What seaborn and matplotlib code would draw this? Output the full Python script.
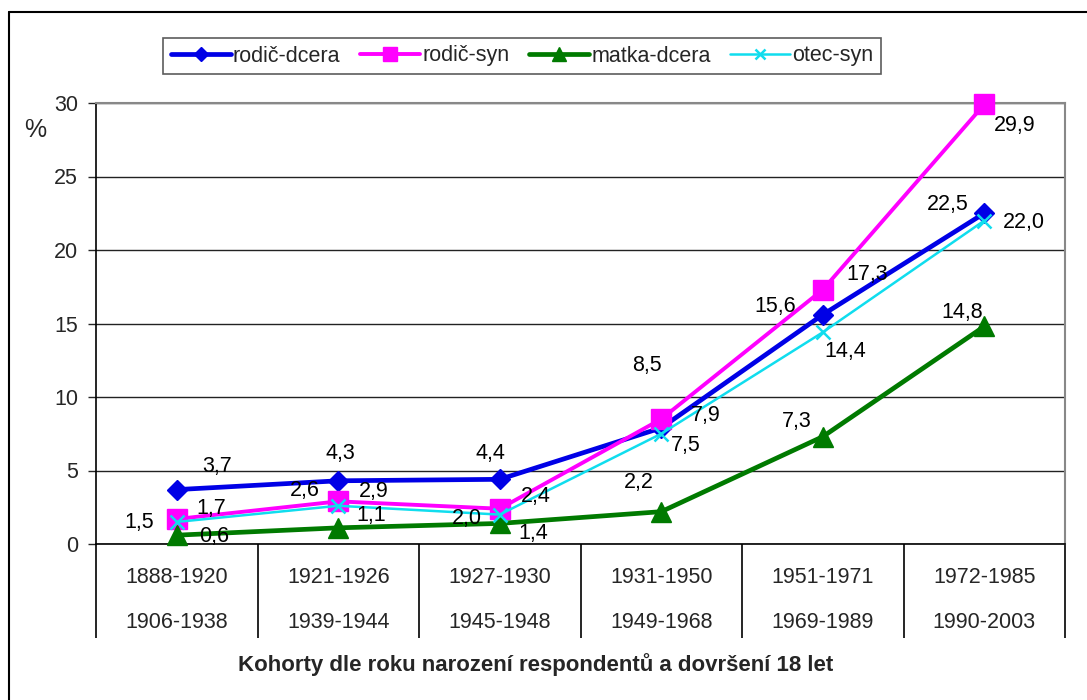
import numpy as np
import pandas as pd
import seaborn as sns
import matplotlib.pyplot as plt
from matplotlib.lines import Line2D
import matplotlib.transforms as mtransforms

# Data
cohorts_birth = ["1888-1920", "1921-1926", "1927-1930", "1931-1950", "1951-1971", "1972-1985"]
cohorts_18 = ["1906-1938", "1939-1944", "1945-1948", "1949-1968", "1969-1989", "1990-2003"]

rodic_dcera = [3.7, 4.3, 4.4, 7.9, 15.6, 22.5]
rodic_syn = [1.7, 2.9, 2.4, 8.5, 17.3, 29.9]
matka_dcera = [0.6, 1.1, 1.4, 2.2, 7.3, 14.8]
otec_syn = [1.5, 2.6, 2.0, 7.5, 14.4, 22.0]

series_names = ["rodič-dcera", "rodič-syn", "matka-dcera", "otec-syn"]
x_title = "Kohorty dle roku narození respondentů a dovršení 18 let"

FS = 15.5

# Styles per series: colour, marker, marker size, line width
styles = {
    "rodič-dcera": dict(color="#0000E6", marker="D", ms=10, lw=3.4, mew=1),
    "rodič-syn": dict(color="#FF00FF", marker="s", ms=14, lw=2.8, mew=1),
    "matka-dcera": dict(color="#007A00", marker="^", ms=14, lw=3.4, mew=1),
    "otec-syn": dict(color="#10DDEE", marker="x", ms=10, lw=1.8, mew=1.8),
}

# label offsets in pixels (dx, dy up) for each point
label_offsets = {
    "rodič-dcera": [(40, 23), (2, 27), (-9, 26), (44, 12), (-48, 8), (-36, 9)],
    "rodič-syn": [(35, 11), (36, 10), (36, 12), (-14, 54), (44, 15), (30, -21)],
    "matka-dcera": [(37, -1), (33, 12), (33, -10), (-22, 29), (-26, 15), (-22, 14)],
    "otec-syn": [(-38, -1), (-33, 15), (-33, -4), (25, -12), (22, -19), (40, -2)],
}

values = dict(zip(series_names, [rodic_dcera, rodic_syn, matka_dcera, otec_syn]))
pos = np.arange(len(cohorts_birth))

rows = []
for name in series_names:
    for i, v in enumerate(values[name]):
        rows.append({"pos": pos[i], "serie": name, "value": v})
df = pd.DataFrame(rows)

sns.set_style("white")
plt.rcParams["font.family"] = ["Liberation Sans", "DejaVu Sans"]

fig = plt.figure(figsize=(10.87, 7.0), dpi=100)
ax = fig.add_axes([96 / 1087, 1 - 544 / 700, (1065 - 96) / 1087, (544 - 103) / 700])

for name in series_names:
    st = styles[name]
    sub = df[df["serie"] == name]
    sns.lineplot(data=sub, x="pos", y="value", ax=ax, color=st["color"],
                 marker=st["marker"], markersize=st["ms"], linewidth=st["lw"],
                 markeredgecolor=st["color"], markeredgewidth=st["mew"],
                 label=name, clip_on=False, zorder=3)
    for (i, v), (dx, dy) in zip(enumerate(values[name]), label_offsets[name]):
        ax.annotate(f"{v:.1f}".replace(".", ","), (pos[i], v), xytext=(dx, dy),
                    textcoords="offset pixels", ha="center", va="center",
                    fontsize=FS, color="black", zorder=4)

ax.set_xlim(-0.5, len(cohorts_birth) - 0.5)
ax.set_ylim(0, 30)
ax.set_yticks(range(0, 31, 5))
ax.tick_params(axis="y", labelsize=FS, length=6, width=1, direction="out", pad=7, left=True)
ax.set_xticks([])
ax.set_xlabel("")
ax.set_ylabel("")
ax.yaxis.grid(True, color="#222222", lw=1)
ax.set_axisbelow(True)
for side in ["top", "right"]:
    ax.spines[side].set_color("#888888")
    ax.spines[side].set_linewidth(1.5)
for side in ["left", "bottom"]:
    ax.spines[side].set_color("black")
    ax.spines[side].set_linewidth(1.2)

# category table under the axis
trans = mtransforms.blended_transform_factory(ax.transData, ax.transAxes)
for i in pos:
    ax.text(i, -0.075, cohorts_birth[i], transform=trans, ha="center", va="center", fontsize=FS)
    ax.text(i, -0.177, cohorts_18[i], transform=trans, ha="center", va="center", fontsize=FS)
ax.vlines(np.arange(len(cohorts_birth) + 1) - 0.5, -0.213, 0, transform=trans,
          colors="black", lw=1.2, clip_on=False)

fig.text(536 / 1087, 1 - 665 / 700, x_title, ha="center", va="center",
         fontsize=16, fontweight="bold")
fig.text(35 / 1087, 1 - 130 / 700, "%", ha="center", va="center", fontsize=18)

# outer frame (left and top edges visible)
fig.add_artist(Line2D([9 / 1087, 9 / 1087], [0, 1 - 12 / 700], color="black", lw=1.5))
fig.add_artist(Line2D([9 / 1087, 1], [1 - 12 / 700, 1 - 12 / 700], color="black", lw=1.5))

leg = ax.legend(loc="center", bbox_to_anchor=(522 / 1087, 1 - 56 / 700),
                bbox_transform=fig.transFigure, ncol=4, fontsize=FS, frameon=True,
                fancybox=False, edgecolor="#333333", handlelength=2.8, markerscale=0.75,
                handletextpad=0.1, columnspacing=0.9, borderpad=0.35)
leg.get_frame().set_linewidth(1.2)

fig.savefig("out.png", dpi=100, facecolor="white")
